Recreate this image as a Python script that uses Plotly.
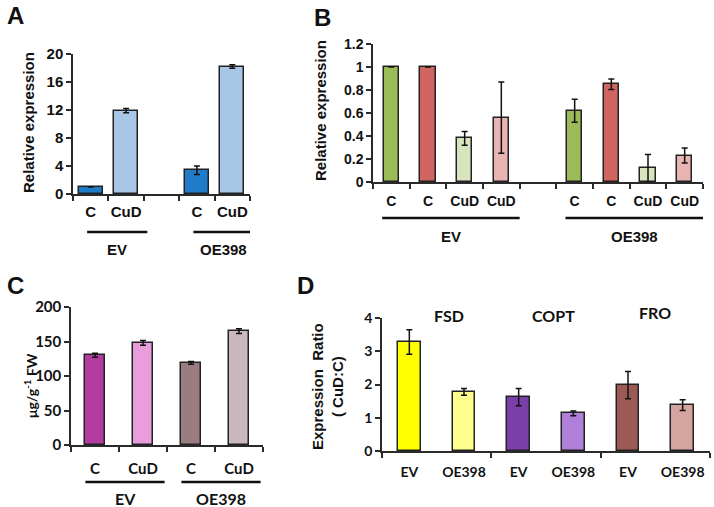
import plotly.graph_objects as go

# ---------------- Data ----------------
# Panel A
a_labels = ["C", "CuD", "", "C", "CuD"]
a_groups = ["EV", "OE398"]
a_values = [1.0, 11.9, None, 3.4, 18.2]
a_errors = [None, 0.3, None, 0.6, 0.25]
a_colors = ["#1f7cc8", "#a8c6e6", "#ffffff", "#1f7cc8", "#a8c6e6"]
a_yticks = [0, 4, 8, 12, 16, 20]

# Panel B
b_labels = ["C", "C", "CuD", "CuD", "", "C", "C", "CuD", "CuD"]
b_groups = ["EV", "OE398"]
b_values = [1.0, 1.0, 0.38, 0.56, None, 0.62, 0.85, 0.12, 0.23]
b_errors = [None, None, 0.06, 0.31, None, 0.10, 0.045, 0.12, 0.065]
b_colors = ["#9bbb59", "#cf6461", "#d7e4bc", "#e8b5b3", "#ffffff",
            "#9bbb59", "#cf6461", "#d7e4bc", "#e8b5b3"]
b_yticks = [0, 0.2, 0.4, 0.6, 0.8, 1.0, 1.2]
b_yticktext = ["0", "0.2", "0.4", "0.6", "0.8", "1", "1.2"]

# Panel C
c_labels = ["C", "CuD", "C", "CuD"]
c_groups = ["EV", "OE398"]
c_values = [130, 148, 119, 165]
c_errors = [3, 3.5, 2, 3.5]
c_colors = ["#b23ca2", "#e99ddb", "#9b7c81", "#cab8bc"]
c_yticks = [0, 50, 100, 150, 200]

# Panel D
d_genes = ["FSD", "COPT", "FRO"]
d_labels = ["EV", "OE398", "EV", "OE398", "EV", "OE398"]
d_values = [3.28, 1.78, 1.62, 1.13, 1.98, 1.38]
d_errors = [0.37, 0.10, 0.26, 0.07, 0.41, 0.16]
d_colors = ["#ffff00", "#ffff8c", "#7a3fa8", "#b07fd9", "#9c5a55", "#d5a69f"]
d_yticks = [0, 1, 2, 3, 4]

# Axis titles
a_ytitle = "Relative expression"
b_ytitle = "Relative expression"
c_ytitle = "μg/g<sup>-1</sup> FW"
d_ytitle = "Expression  Ratio<br>( CuD:C)"

# ---------------- Figure ----------------
W, H = 714, 507
ARIAL = "Liberation Sans, Arial, sans-serif"
CAL = "Lato, Open Sans, sans-serif"
AX = "#2a2a2a"


def px_x(p):
    return p / W


def px_y(p):
    return 1 - p / H


fig = go.Figure()


def add_bars(values, errors, colors, xa, ya, width):
    n = len(values)
    fig.add_trace(go.Bar(
        x=list(range(n)), y=values, xaxis=xa, yaxis=ya,
        width=width,
        marker=dict(color=colors, line=dict(color="#222222", width=1.5)),
        error_y=dict(type="data", array=errors, color="#111111",
                     thickness=1.5, width=3),
        showlegend=False, hoverinfo="y",
    ))


add_bars(a_values, a_errors, a_colors, "x", "y", 0.68)
add_bars(b_values, b_errors, b_colors, "x2", "y2", 0.42)
add_bars(c_values, c_errors, c_colors, "x3", "y3", 0.42)
add_bars(d_values, d_errors, d_colors, "x4", "y4", 0.42)


def xaxis_cfg(labels, dom, font, size, dtick, standoff):
    n = len(labels)
    pos = [i for i, l in enumerate(labels) if l != ""]
    return dict(
        domain=dom, range=[-0.5, n - 0.5], automargin=False,
        tickmode="array", tickvals=pos, ticktext=[labels[i] for i in pos],
        ticks="outside", ticklen=standoff, tickcolor="rgba(0,0,0,0)",
        tickfont=dict(family=font, size=size, color="#111", weight="bold"),
        minor=dict(tickmode="linear", tick0=-0.5, dtick=dtick, ticks="outside",
                   ticklen=5, tickcolor=AX, tickwidth=1.5, showgrid=False),
        showline=True, linecolor=AX, linewidth=1.5,
        showgrid=False, zeroline=False, fixedrange=True,
    )


def yaxis_cfg(dom, rng, tickvals, ticktext, font, size, anchor):
    return dict(
        domain=dom, range=rng, anchor=anchor, automargin=False,
        tickmode="array", tickvals=tickvals, ticktext=ticktext,
        ticks="outside", ticklen=5, tickcolor=AX, tickwidth=1.5,
        tickfont=dict(family=font, size=size, color="#111", weight="bold"),
        showline=True, linecolor=AX, linewidth=1.5,
        showgrid=False, zeroline=False, fixedrange=True,
    )


fig.update_layout(
    width=W, height=H, margin=dict(l=0, r=0, t=0, b=0, autoexpand=False),
    paper_bgcolor="white", plot_bgcolor="white", showlegend=False,
    bargap=0,
    xaxis=dict(xaxis_cfg(a_labels, [px_x(73), px_x(250)], ARIAL, 15, 1, 3), anchor="y"),
    yaxis=yaxis_cfg([px_y(194), px_y(54)], [0, 20], a_yticks, [str(v) for v in a_yticks], ARIAL, 15, "x"),
    xaxis2=dict(xaxis_cfg(b_labels, [px_x(373), px_x(703)], ARIAL, 14, 1, 5), anchor="y2"),
    yaxis2=yaxis_cfg([px_y(182), px_y(44)], [0, 1.2], b_yticks, b_yticktext, ARIAL, 14, "x2"),
    xaxis3=dict(xaxis_cfg(c_labels, [px_x(71), px_x(263)], CAL, 15, 1, 9), anchor="y3"),
    yaxis3=yaxis_cfg([px_y(445), px_y(307)], [0, 200], c_yticks, [str(v) for v in c_yticks], CAL, 15, "x3"),
    xaxis4=dict(xaxis_cfg(d_labels, [px_x(382), px_x(710)], CAL, 14, 2, 7), anchor="y4"),
    yaxis4=yaxis_cfg([px_y(451), px_y(318)], [0, 4], d_yticks, [str(v) for v in d_yticks], CAL, 14, "x4"),
)

annotations = []
shapes = []

# y-axis titles (rotated text placed beside each axis)
for txt, x, y, fam, size in [(a_ytitle, 28, 123, ARIAL, 15),
                             (b_ytitle, 320, 111, ARIAL, 15),
                             (c_ytitle, 30, 386, CAL, 14),
                             (d_ytitle, 327, 387, ARIAL, 15)]:
    annotations.append(dict(xref="paper", yref="paper", x=px_x(x), y=px_y(y),
                            xanchor="center", yanchor="middle",
                            text=txt, textangle=-90, showarrow=False,
                            font=dict(family=fam, size=size, color="#111", weight="bold")))


def group_spans(labels, groups):
    idx = [i for i, l in enumerate(labels) if l != ""]
    if "" in labels:
        cut = labels.index("")
        parts = [[i for i in idx if i < cut], [i for i in idx if i > cut]]
    else:
        half = len(idx) // len(groups)
        parts = [idx[k * half:(k + 1) * half] for k in range(len(groups))]
    return parts


def add_groups(labels, groups, xref, line_y, text_y, font, size, lpad, rpad):
    for g, part in zip(groups, group_spans(labels, groups)):
        x0, x1 = part[0] - lpad, part[-1] + rpad
        shapes.append(dict(type="line", xref=xref, yref="paper",
                           x0=x0, x1=x1, y0=px_y(line_y), y1=px_y(line_y),
                           line=dict(color="#111", width=2.5)))
        annotations.append(dict(xref=xref, yref="paper", x=(x0 + x1) / 2,
                                y=px_y(text_y), text=g, showarrow=False,
                                xanchor="center", yanchor="middle",
                                font=dict(family=font, size=size, color="#111", weight="bold")))


add_groups(a_labels, a_groups, "x", 232, 249, ARIAL, 15, 0.1, 0.6)
add_groups(b_labels, b_groups, "x2", 218, 237, ARIAL, 15, 0.25, 0.5)
add_groups(c_labels, c_groups, "x3", 482, 498, CAL, 16, 0.2, 0.45)

gene_nudge = [0.23, 0.13, 0.0]
gene_y = [315, 315, 312]
for k, gname in enumerate(d_genes):
    annotations.append(dict(xref="x4", yref="paper", x=2 * k + 0.5 + gene_nudge[k],
                            y=px_y(gene_y[k]), text=gname, showarrow=False,
                            xanchor="center", yanchor="middle",
                            font=dict(family=CAL, size=16, color="#111", weight="bold")))

for letter, x, y in [("A", 15, 15), ("B", 322, 18), ("C", 15, 285), ("D", 305, 285)]:
    annotations.append(dict(xref="paper", yref="paper", x=px_x(x), y=px_y(y),
                            xanchor="center", yanchor="middle",
                            text=letter, showarrow=False,
                            font=dict(family=ARIAL, size=24, color="#111", weight="bold")))

fig.update_layout(annotations=annotations, shapes=shapes)
fig.write_html("out.html", config={"displayModeBar": False},
               post_script="document.body.style.margin='0px';")
